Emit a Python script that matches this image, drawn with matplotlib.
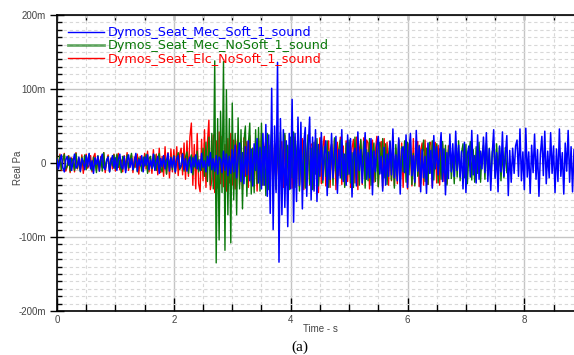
import numpy as np
import matplotlib
matplotlib.use('Agg')
import matplotlib.pyplot as plt
from matplotlib.ticker import MultipleLocator, FuncFormatter
from matplotlib.lines import Line2D

# sampling interval of the peak sequences (s)
dt = 0.025

# sound pressure samples in mPa (one row = 0.5 s)
blue_vals = [
    5, -8, 3, 11, -6, -12, 4, 9, -3, 7, -10, 2, 12, -7, -4, 8, -11, 6, 1, -9,
    10, -5, 13, -8, 3, -14, 7, -2, 9, -11, 5, 12, -6, -9, 4, 8, -12, 2, 10, -7,
    7, -10, 4, 12, -5, -8, 9, -13, 3, 11, -6, 6, -9, 2, 13, -11, 5, -4, 10, -12,
    8, -3, 11, -9, 4, -7, 12, -10, 1, 9, -14, 6, -5, 10, -8, 3, 13, -11, 7, -6,
    9, -12, 5, 10, -7, -3, 12, -9, 6, -11, 2, 8, -13, 7, -5, 11, -8, 4, -10, 13,
    -6, 3, -12, 9, -4, 14, -9, 6, -11, 10, -15, 8, 5, -13, 16, -10, 12, -17, 9, -14,
    18, -12, 24, -20, 9, 27, -25, 14, -28, 22, -16, 30, -24, 19, -31, 26, -10, 33, -27, 21,
    -35, 40, -30, 52, -45, 38, -68, 101, -90, 50, -40, 136, -134, 60, -70, 45, -60, 30, -86, 40,
    -35, 86, -80, 40, -52, 62, -30, 55, -62, 28, 48, -45, 20, 62, -50, 35, -38, 45, -52, 25,
    -18, 41, -23, 12, 30, -44, 15, -22, 40, -20, 10, 36, -41, 18, -20, 45, -25, 12, -30, 38,
    -15, 33, -46, 12, 20, -31, 42, -10, 18, -27, 8, 41, -22, 14, -20, 33, -43, 16, -12, 24,
    36, -15, 9, -38, 21, -30, 12, -18, 29, -16, 46, -20, 11, -24, 34, -42, 17, 22, -13, 38,
    -33, 15, 40, -17, 10, -26, 44, -11, 23, -39, 18, -20, 9, -41, 27, -14, 17, -34, 37, -8,
    22, -16, 13, 41, -25, 19, -43, 14, -21, 39, -12, 26, -18, 43, -10, 24, -19, 16, -35, 28,
    -40, 12, 23, -19, 44, -16, 10, -27, 38, -22, 16, -8, 35, -13, 41, -25, 19, -37, 11, 45,
    -21, 14, -39, 23, -12, 42, -18, 9, 37, -44, 17, -26, 20, -14, 23, 31, -18, 46, -24, 15,
    -36, 47, -19, 15, -41, 24, -13, 39, -22, 18, -45, 12, 36, -17, 43, -28, 16, -20, 41, -14,
    23, -40, 19, -25, 46, -18, 14, -42, 27, -11, 44, -26, 22, -39, 18,
]
green_vals = [
    7, -5, 10, -9, 3, 12, -8, -4, 9, -11, 6, 2, -10, 13, -7, 5, -12, 8, -3, 11,
    -9, 4, 12, -6, -10, 8, 3, -13, 10, -5, 7, -11, 14, -8, 2, 9, -12, 6, -4, 11,
    -8, 12, -6, 4, -13, 9, 5, -10, 11, -7, 3, 13, -9, -5, 10, -12, 7, 2, -11, 8,
    -4, 12, -14, 6, 9, -8, -3, 11, -10, 5, 13, -7, -12, 9, 4, -15, 10, -6, 8, -9,
    10, -12, 6, 14, -9, -5, 13, -11, 8, 15, -14, 4, 11, -16, 9, -7, 16, -12, 5, -10,
    20, -18, 28, -25, 35, -30, 40, -35, 138, -135, 60, -104, 70, -40, 137, -118, 99, -70, 60, -108,
    81, -50, 40, -70, 61, -35, 45, -62, 30, 50, -45, 25, 54, -42, 20, -40, 45, -28, 48, -38,
    54, -30, 22, -44, 40, -36, 18, 46, -41, 25, -35, 38, -22, 42, -33, 15, 40, -30, 24, -36,
    35, -20, 42, -33, 14, 36, -38, 18, -26, 30, -34, 12, 38, -29, 20, -36, 28, -15, 33, -31,
    11, 35, -27, 22, -18, 30, -33, 16, 26, -30, 34, -12, -28, 19, 31, -22, 13, -33, 27, -16,
    31, -27, 14, -33, 35, -15, 20, -30, 32, -11, 29, -34, 18, -24, 33, -30, 12, 27, -25, 19,
    -32, 28, -14, 33, -20, 26, -29, 11, 30, -23, 16, -34, 25, -18, 31, -27, 22, -12, 30, -26,
    28, -16, 32, -29, 13, -31, 30, -18, 24, -28, 12, 31, -25, 20, -29, 28, -14, 30, -23, 15,
    26, -27, 19, -22, 29, -13, 24, -30, 17, 27, -21, 11, -28, 25, -19, 30, -24, 14, 26, -20,
    25, -28, 13, 29, -23, 18, -26, 22, -14, 28, -26, 12, 24, -22, 27, -17, 20, -25, 15, 23,
    -19, 26, -12, 22, -24, 16, -20, 21, -13,
]
red_vals = [
    9, -6, 12, -10, 4, 13, -11, -5, 10, -13, 7, 3, -12, 14, -8, 6, -9, 11, -14, 5,
    12, -7, -3, 10, -12, 8, 13, -9, 4, -11, 9, -6, 14, -13, 2, 11, -10, 7, -8, 12,
    -11, 6, 13, -9, 4, -12, 10, -7, 14, -10, 5, 11, -13, 8, -6, 12, -15, 9, 3, -11,
    13, -8, 16, -12, 7, -14, 18, -10, 12, -16, 20, -13, 9, -18, 22, -15, 14, -20, 19, -12,
    18, -14, 22, -17, 12, 20, -16, 27, -22, 30, -18, 35, 54, -30, 25, -35, 40, -28, -39, 32,
    -24, 45, -33, 28, 58, -36, -23, 38, -40, 30, -34, 42, -28, 36, -32, 25, -38, 33, -27, 40,
    -30, 31, -35, 22, 38, -29, 27, -36, 34, -18, 29, -33, 37, -26, 20, -32, 28, -38, 33, -22,
    40, -30, 16, 31, -35, 24, -29, 38, -20, 27, -36, 34, -31, 19, 29, -33, 37, -26, 22, -30,
    30, -34, 18, 35, -28, 26, -32, 14, 33, -36, 29, -20, 38, -30, 24, 27, -35, 31, -18, -40,
    34, -28, 21, 36, -31, 15, 30, -33, 25, -22, 32, -36, 28, -17, 35, -29, 23, -31, 30, -25,
    28, -33, 20, 32, -27, 35, -36, 18, 30, -29, 34, -21, 31, 27, -35, 24, 31, -26, 16, 36,
    -32, 22, 29, -34, 33, -19, 28, -30, 26, -24, 35, -31, 20, -28, 32, -25, 27, -33, 18, 30,
    -35, 26, 15, -31, 33, -28, 22, 29, -32, 17, 27, -30, 31, -19, -29, 25, 28, -33, 14, 28,
    -27, 24, -30, 21, 26, -25, 18, -28, 23,
]

labels = ["Dymos_Seat_Mec_Soft_1_sound",
          "Dymos_Seat_Mec_NoSoft_1_sound",
          "Dymos_Seat_Elc_NoSoft_1_sound"]
c_blue, c_green, c_red = "#0000ff", "#0a780a", "#ff0000"

fig = plt.figure(figsize=(5.74, 3.55), dpi=100)
ax = fig.add_axes([57/574, 1-311/355, 517/574, 296/355])

t_red = np.arange(len(red_vals)) * dt
t_green = np.arange(len(green_vals)) * dt
t_blue = np.arange(len(blue_vals)) * dt
ax.plot(t_red, red_vals, color=c_red, lw=1.0, zorder=2)
ax.plot(t_green, green_vals, color=c_green, lw=1.0, zorder=3)
ax.plot(t_blue, blue_vals, color=c_blue, lw=1.1, zorder=4)

ax.set_xlim(0, 8.85)
ax.set_ylim(-200, 200)
ax.xaxis.set_major_locator(MultipleLocator(2))
ax.xaxis.set_minor_locator(MultipleLocator(0.5))
ax.yaxis.set_major_locator(MultipleLocator(100))
ax.yaxis.set_minor_locator(MultipleLocator(10))
ax.grid(which='major', color='#c4c4c4', lw=1.0, ls='-')
ax.grid(which='minor', color='#d8d8d8', lw=0.8, ls=(0, (3, 2.5)))
ax.set_axisbelow(True)
ax.spines['right'].set_visible(False)
for s in ['left', 'bottom', 'top']:
    ax.spines[s].set_linewidth(1.2)

ax.yaxis.set_major_formatter(FuncFormatter(lambda v, p: "0" if v == 0 else f"{int(v)}m"))
ax.xaxis.set_major_formatter(FuncFormatter(lambda v, p: f"{int(v)}"))

ax.tick_params(axis='x', which='major', direction='in', length=9.4, width=1, pad=3,
               labelcolor='#444444')
ax.tick_params(axis='x', which='minor', direction='in', length=5, width=1)
ax.tick_params(axis='y', which='major', direction='inout', length=10, width=1, pad=3,
               labelcolor='#444444')
ax.tick_params(axis='y', which='minor', direction='in', length=3.6, width=1)
for lab in ax.get_xticklabels() + ax.get_yticklabels():
    lab.set_fontfamily('Liberation Sans')
    lab.set_fontsize(7)

top = ax.secondary_xaxis('top')
top.xaxis.set_major_locator(MultipleLocator(0.5))
top.tick_params(direction='in', length=3.6, width=1, labeltop=False)
top.spines['top'].set_visible(False)

fig.text(320/574, 1-329/355, "Time - s", ha='center', va='center',
         family='Liberation Sans', size=7, color='#444444')
fig.text(18/574, 1-168/355, "Real Pa", ha='center', va='center', rotation=90,
         family='Liberation Sans', size=7, color='#444444')
fig.text(300/574, 1-347/355, "(a)", ha='center', va='center',
         family='Liberation Serif', size=11, color='black')

handles = [Line2D([], [], color=c_blue, lw=1.0),
           Line2D([], [], color=c_green, lw=2.0, alpha=0.6),
           Line2D([], [], color=c_red, lw=1.0)]
leg = ax.legend(handles, labels, loc='upper left', bbox_to_anchor=(11/517, 1-11/296),
                frameon=False, prop=dict(family='DejaVu Sans', size=9.2),
                handlelength=2.8, handletextpad=0.3, labelspacing=0.02,
                borderpad=0, borderaxespad=0)
for txt, col in zip(leg.get_texts(), [c_blue, c_green, c_red]):
    txt.set_color(col)

fig.savefig("out.png", dpi=100)
